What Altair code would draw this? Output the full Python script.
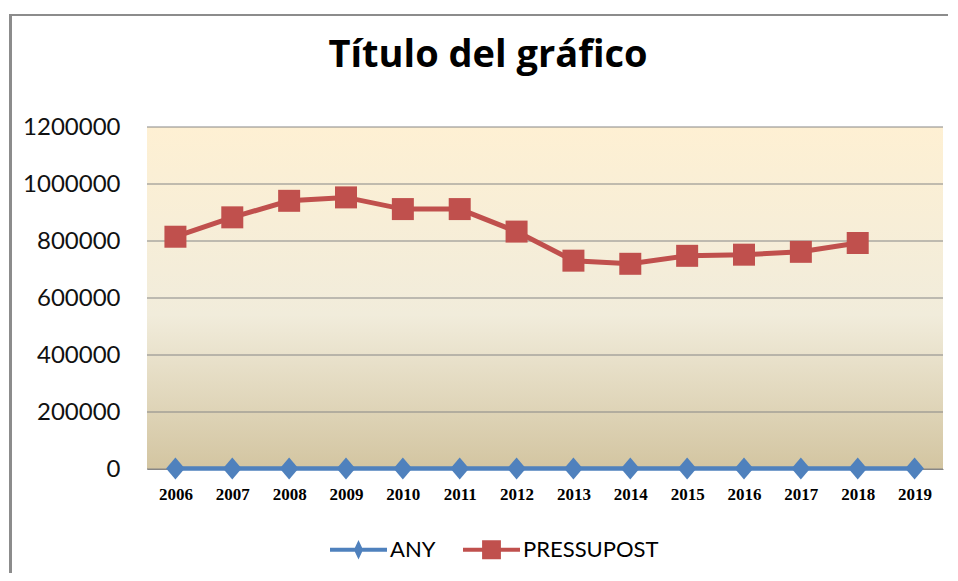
import altair as alt
import pandas as pd

years = ["2006", "2007", "2008", "2009", "2010", "2011", "2012",
         "2013", "2014", "2015", "2016", "2017", "2018", "2019"]
any_values = [2006, 2007, 2008, 2009, 2010, 2011, 2012,
              2013, 2014, 2015, 2016, 2017, 2018, 2019]
pressupost_years = years[:13]
pressupost_values = [815000, 883000, 941000, 953000, 912000, 912000, 833000,
                     731000, 720000, 748000, 752000, 762000, 793000]
y_ticks = [0, 200000, 400000, 600000, 800000, 1000000, 1200000]
series = ["ANY", "PRESSUPOST"]
series_colors = ["#4F81BD", "#C0504D"]

W, H = 796, 342

df_any = pd.DataFrame({"year": years, "value": any_values})
df_pre = pd.DataFrame({"year": pressupost_years, "value": pressupost_values})
df_ticks = pd.DataFrame({"tick": y_ticks})
df_series = pd.DataFrame({"series": series})
one = pd.DataFrame({"a": [0]})

y_scale = alt.Scale(domain=[0, 1200000], nice=False, zero=True)
x_scale = alt.Scale(type="point", padding=0.5, domain=years)

x_axis = alt.Axis(title=None, labelAngle=0, ticks=False, domainColor="#868686",
                  grid=False,
                  labelFont="Liberation Serif", labelFontSize=17,
                  labelFontWeight="bold", labelColor="#000000", labelPadding=17)
y_axis = alt.Axis(title=None, grid=False, domain=False, ticks=False, values=y_ticks,
                  format="d", labelFont="Lato", labelFontSize=24,
                  labelColor="#111111", labelPadding=27)

bg = alt.Chart(one).mark_rect(
    color=alt.Gradient(
        gradient="linear", x1=0, y1=0, x2=0, y2=1,
        stops=[alt.GradientStop(offset=0, color="#FEF0D3"),
               alt.GradientStop(offset=0.55, color="#F1ECDB"),
               alt.GradientStop(offset=1, color="#D3C5A1")])
).encode(x=alt.value(0), x2=alt.value(W), y=alt.value(0), y2=alt.value(H))

grid = alt.Chart(df_ticks).mark_rule(color="#868686", strokeWidth=1).encode(
    y=alt.Y("tick:Q", scale=y_scale, axis=y_axis),
    x=alt.value(0), x2=alt.value(W))

any_line = alt.Chart(df_any).mark_line(color="#4F81BD", strokeWidth=4.5).encode(
    x=alt.X("year:O", scale=x_scale, axis=x_axis),
    y=alt.Y("value:Q", scale=y_scale, axis=y_axis))
any_pts = alt.Chart(df_any).mark_point(
    filled=True, opacity=1, color="#4F81BD", strokeWidth=0, size=484,
    shape="M0,-1L0.85,0L0,1L-0.85,0Z").encode(
    x=alt.X("year:O", scale=x_scale, axis=x_axis),
    y=alt.Y("value:Q", scale=y_scale, axis=y_axis))

pre_line = alt.Chart(df_pre).mark_line(color="#C0504D", strokeWidth=5).encode(
    x=alt.X("year:O", scale=x_scale, axis=x_axis),
    y=alt.Y("value:Q", scale=y_scale, axis=y_axis))
pre_pts = alt.Chart(df_pre).mark_point(
    filled=True, opacity=1, color="#C0504D", strokeWidth=0, size=484,
    shape="square").encode(
    x=alt.X("year:O", scale=x_scale, axis=x_axis),
    y=alt.Y("value:Q", scale=y_scale, axis=y_axis))

bar_path = "M-1,-0.07L1,-0.07L1,0.07L-1,0.07Z"
legend_paths = [bar_path + "M0,-0.34L0.16,0L0,0.34L-0.16,0Z",
                bar_path + "M-0.33,-0.33L0.33,-0.33L0.33,0.33L-0.33,0.33Z"]

legend_layer = alt.Chart(df_series).mark_point(
    filled=True, opacity=0, strokeWidth=0).encode(
    x=alt.value(0), y=alt.value(0),
    color=alt.Color("series:N", scale=alt.Scale(domain=series, range=series_colors),
                    legend=alt.Legend(title=None)),
    shape=alt.Shape("series:N", scale=alt.Scale(domain=series, range=legend_paths),
                    legend=alt.Legend(title=None)))

frame_top = alt.Chart(one).mark_rule(color="#8C8C8C", strokeWidth=2).encode(
    x=alt.value(-138), x2=alt.value(W + 20), y=alt.value(-112))
frame_left = alt.Chart(one).mark_rule(color="#8C8C8C", strokeWidth=3).encode(
    x=alt.value(-136.5), y=alt.value(-113), y2=alt.value(H + 120))

chart = alt.layer(
    bg, grid, any_line, any_pts, pre_line, pre_pts, legend_layer, frame_top, frame_left
).properties(
    width=W, height=H,
    autosize="none",
    padding={"left": 139, "top": 119, "right": 5, "bottom": 104},
    title=alt.Title("Título del gráfico", font="Open Sans", fontSize=38, fontWeight="bold",
                    color="#000000", anchor="middle", dx=-57, dy=92, offset=0,
                    baseline="alphabetic"),
).configure_view(stroke=None).configure_legend(
    orient="none", legendX=183, legendY=394, direction="horizontal",
    symbolSize=3249, labelFont="Lato", labelFontSize=22, labelColor="#000000",
    labelOffset=3, columnPadding=27, padding=0, symbolOpacity=1, symbolStrokeWidth=0
)

chart.save("out.html", embed_options={"renderer": "svg", "actions": False})
